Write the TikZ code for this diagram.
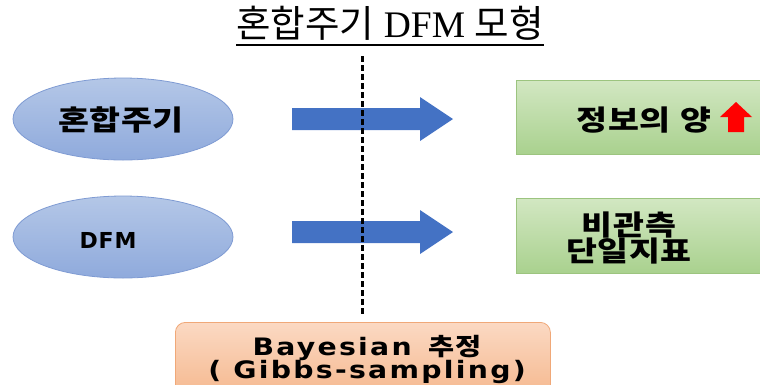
\documentclass[tikz,border=0pt]{standalone}
\usepackage{fontspec}
\setmainfont{Liberation Serif}
\newfontfamily\kr{Noto Sans CJK KR}
\newfontfamily\krsp{Noto Sans CJK KR}[LetterSpace=2]
\newfontfamily\lat{DejaVu Sans}[LetterSpace=8]
\newfontfamily\latn{DejaVu Sans}[LetterSpace=4]
\newcommand{\wx}[1]{\scalebox{1.2}[1]{#1}}
\newcommand{\wl}[1]{\scalebox{1.18}[1]{#1}}
\usetikzlibrary{shapes.geometric}
\definecolor{arrowblue}{HTML}{4472C4}
\definecolor{elltop}{HTML}{B4C7E7}
\definecolor{ellbot}{HTML}{8FAADC}
\definecolor{ellline}{HTML}{7F9BD3}
\definecolor{grntop}{HTML}{D2E7C2}
\definecolor{grnbot}{HTML}{A9D18E}
\definecolor{grnline}{HTML}{9CC47F}
\definecolor{orgtop}{HTML}{FBD9C3}
\definecolor{orgbot}{HTML}{F4B183}
\definecolor{orgline}{HTML}{F0A878}
\tikzset{
  ell/.style={ellipse, minimum width=220pt, minimum height=82pt, inner sep=0pt,
    draw=ellline, line width=0.8pt, top color=elltop, bottom color=ellbot},
  grnbox/.style={rectangle, draw=grnline, line width=0.8pt, top color=grntop, bottom color=grnbot},
  orgbox/.style={rectangle, rounded corners=10pt, draw=orgline, line width=0.8pt, top color=orgtop, bottom color=orgbot},
  blockarrow/.style={fill=arrowblue, draw=none},
  lbl/.style={font=\krsp\bfseries\fontsize{28}{30}\selectfont, text=black, inner sep=0pt, align=center},
}
\begin{document}
\begin{tikzpicture}[x=1pt,y=-1pt]
\useasboundingbox (0,0) rectangle (760,384);
\clip (0,0) rectangle (760,384);
% title
\node[inner sep=0pt, anchor=base] (title) at (390,37)
  {\fontsize{37.5}{40}\selectfont{\kr 혼합주기} DFM {\kr 모형}};
\draw[line width=1.8pt] ([yshift=-8pt]title.base west) -- ([yshift=-8pt]title.base east);
% ellipses
\node[ell] (e1) at (123,119) {};
\node[lbl] at (121,120) {\wx{혼합주기}};
\node[ell] (e2) at (123,237) {};
\node[font=\latn\bfseries\fontsize{22}{24}\selectfont, inner sep=0pt] at (108,240) {DFM};
% block arrows
\fill[blockarrow] (292,108) -- (420,108) -- (420,97) -- (453,119) -- (420,141) -- (420,130) -- (292,130) -- cycle;
\fill[blockarrow] (292,221) -- (420,221) -- (420,210) -- (453,232) -- (420,254) -- (420,243) -- (292,243) -- cycle;
% green boxes
\node[grnbox, minimum width=260pt, minimum height=74pt, anchor=north west] (g1) at (516,80) {};
\node[lbl] (t1) at (644,120) {\wx{정보의\hspace{0.3em}양}};
\fill[red] (720,117) -- (736,102) -- (752,117) -- (744,117) -- (744,132) -- (728,132) -- (728,117) -- cycle;
\node[grnbox, minimum width=260pt, minimum height=75pt, anchor=north west] (g2) at (516,198) {};
\node[lbl] (t2) at (629,238) {\wx{비관측}\\[-4pt]\wx{단일지표}};
% dashed divider
\coordinate (dtop) at (362,56);
\coordinate (dbot) at (362,316);
\draw[line width=3pt, dash pattern=on 6pt off 3pt] (dtop) -- (dbot);
% orange box
\node[orgbox, minimum width=375pt, minimum height=90pt, anchor=north west] (ob) at (175,322) {};
\node[font=\bfseries\fontsize{24}{26}\selectfont, inner sep=0pt, align=center] (ot) at (367,359)
  {\wl{{\lat Bayesian}\hspace{0.6em}{\krsp 추정}}\\[-3pt]\wl{{\lat ( Gibbs-sampling)}}};
\end{tikzpicture}
\end{document}
